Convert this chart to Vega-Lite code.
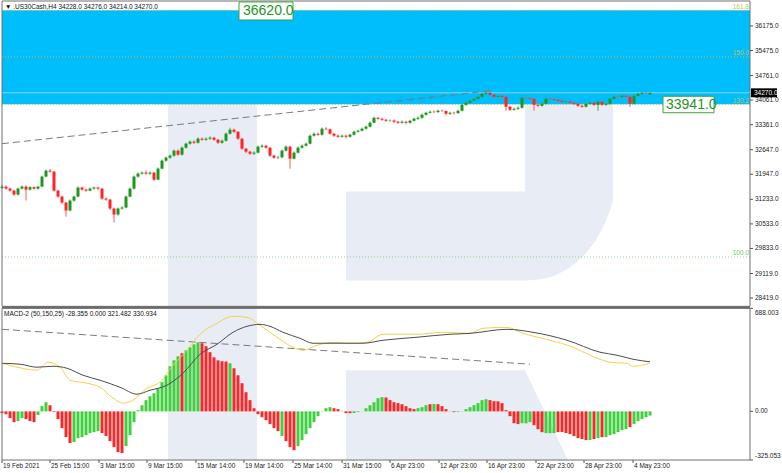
{
"$schema": "https://vega.github.io/schema/vega-lite/v6.json",
"width": 782, "height": 473,
"autosize": {"type": "fit", "contains": "padding"},
"padding": 0,
"config": {"view": {"stroke": null}, "scale": {"continuousPadding": 0}},
"resolve": {"scale": {"y": "independent"}},
"datasets": {
"candles": [
{"n":0,"o":31560,"h":31640,"l":31525,"c":31596},{"n":2,"o":31596,"h":31630,"l":31505,"c":31539},{"n":4,"o":31539,"h":31570,"l":31450,"c":31482},{"n":6,"o":31482,"h":31510,"l":31330,"c":31369},{"n":8,"o":31369,"h":31570,"l":31340,"c":31539},{"n":10,"o":31539,"h":31630,"l":31510,"c":31596},{"n":12,"o":31596,"h":31630,"l":31200,"c":31511},{"n":14,"o":31511,"h":31610,"l":31480,"c":31580},{"n":16,"o":31580,"h":31600,"l":31505,"c":31539},{"n":18,"o":31539,"h":31620,"l":31510,"c":31596},
{"n":20,"o":31596,"h":31910,"l":31580,"c":31881},{"n":22,"o":31881,"h":32080,"l":31860,"c":32051},{"n":24,"o":32051,"h":32095,"l":31990,"c":32023},{"n":26,"o":32023,"h":32040,"l":31450,"c":31482},{"n":28,"o":31482,"h":31500,"l":31280,"c":31312},{"n":30,"o":31312,"h":31340,"l":31100,"c":31141},{"n":32,"o":31141,"h":31160,"l":30743,"c":30914},{"n":34,"o":30914,"h":31230,"l":30890,"c":31198},{"n":36,"o":31198,"h":31340,"l":31170,"c":31312},{"n":38,"o":31312,"h":31600,"l":31290,"c":31568},
{"n":40,"o":31568,"h":31600,"l":31480,"c":31511},{"n":42,"o":31511,"h":31540,"l":31450,"c":31482},{"n":44,"o":31482,"h":31570,"l":31460,"c":31539},{"n":46,"o":31539,"h":31600,"l":31510,"c":31568},{"n":48,"o":31568,"h":31600,"l":31500,"c":31539},{"n":50,"o":31539,"h":31560,"l":31220,"c":31255},{"n":52,"o":31255,"h":31290,"l":31190,"c":31226},{"n":54,"o":31226,"h":31250,"l":30930,"c":30971},{"n":56,"o":30971,"h":31000,"l":30572,"c":30800},{"n":58,"o":30800,"h":31000,"l":30770,"c":30971},
{"n":60,"o":30971,"h":31040,"l":30940,"c":30999},{"n":62,"o":30999,"h":31340,"l":30980,"c":31312},{"n":64,"o":31312,"h":31570,"l":31290,"c":31539},{"n":66,"o":31539,"h":31910,"l":31510,"c":31881},{"n":68,"o":31881,"h":32000,"l":31850,"c":31966},{"n":70,"o":31966,"h":32030,"l":31940,"c":31994},{"n":72,"o":31994,"h":32060,"l":31930,"c":31966},{"n":74,"o":31966,"h":32030,"l":31930,"c":31994},{"n":76,"o":31994,"h":32010,"l":31760,"c":31795},{"n":78,"o":31795,"h":32140,"l":31780,"c":32108},
{"n":80,"o":32108,"h":32370,"l":32090,"c":32336},{"n":82,"o":32336,"h":32450,"l":32300,"c":32421},{"n":84,"o":32421,"h":32510,"l":32390,"c":32478},{"n":86,"o":32478,"h":32650,"l":32450,"c":32620},{"n":88,"o":32620,"h":32660,"l":32470,"c":32506},{"n":90,"o":32506,"h":32740,"l":32480,"c":32705},{"n":92,"o":32705,"h":32850,"l":32680,"c":32819},{"n":94,"o":32819,"h":32910,"l":32790,"c":32876},{"n":96,"o":32876,"h":32920,"l":32810,"c":32847},{"n":98,"o":32847,"h":33000,"l":32820,"c":32961},
{"n":100,"o":32961,"h":33000,"l":32900,"c":32933},{"n":102,"o":32933,"h":33000,"l":32900,"c":32961},{"n":104,"o":32961,"h":33030,"l":32930,"c":32990},{"n":106,"o":32990,"h":33020,"l":32900,"c":32933},{"n":108,"o":32933,"h":32960,"l":32810,"c":32847},{"n":110,"o":32847,"h":32940,"l":32820,"c":32904},{"n":112,"o":32904,"h":33140,"l":32880,"c":33103},{"n":114,"o":33103,"h":33274,"l":33080,"c":33217},{"n":116,"o":33217,"h":33250,"l":33120,"c":33160},{"n":118,"o":33160,"h":33180,"l":32930,"c":32961},
{"n":120,"o":32961,"h":32990,"l":32640,"c":32677},{"n":122,"o":32677,"h":32700,"l":32550,"c":32592},{"n":124,"o":32592,"h":32620,"l":32500,"c":32535},{"n":126,"o":32535,"h":32600,"l":32500,"c":32563},{"n":128,"o":32563,"h":32770,"l":32540,"c":32734},{"n":130,"o":32734,"h":32800,"l":32700,"c":32762},{"n":132,"o":32762,"h":32790,"l":32670,"c":32705},{"n":134,"o":32705,"h":32730,"l":32440,"c":32478},{"n":136,"o":32478,"h":32500,"l":32390,"c":32421},{"n":138,"o":32421,"h":32470,"l":32380,"c":32430},
{"n":140,"o":32430,"h":32650,"l":32410,"c":32620},{"n":142,"o":32620,"h":32770,"l":32600,"c":32734},{"n":144,"o":32734,"h":32760,"l":32108,"c":32392},{"n":146,"o":32392,"h":32600,"l":32370,"c":32563},{"n":148,"o":32563,"h":32740,"l":32540,"c":32705},{"n":150,"o":32705,"h":32800,"l":32680,"c":32762},{"n":152,"o":32762,"h":32850,"l":32740,"c":32819},{"n":154,"o":32819,"h":33080,"l":32800,"c":33047},{"n":156,"o":33047,"h":33140,"l":33020,"c":33103},{"n":158,"o":33103,"h":33130,"l":33040,"c":33075},
{"n":160,"o":33075,"h":33280,"l":33050,"c":33246},{"n":162,"o":33246,"h":33290,"l":33200,"c":33230},{"n":164,"o":33230,"h":33250,"l":33070,"c":33103},{"n":166,"o":33103,"h":33130,"l":33010,"c":33047},{"n":168,"o":33047,"h":33080,"l":32980,"c":33018},{"n":170,"o":33018,"h":33080,"l":32990,"c":33047},{"n":172,"o":33047,"h":33070,"l":32970,"c":33018},{"n":174,"o":33018,"h":33100,"l":32990,"c":33075},{"n":176,"o":33075,"h":33190,"l":33050,"c":33160},{"n":178,"o":33160,"h":33220,"l":33140,"c":33189},
{"n":180,"o":33189,"h":33280,"l":33170,"c":33246},{"n":182,"o":33246,"h":33340,"l":33220,"c":33303},{"n":184,"o":33303,"h":33450,"l":33280,"c":33416},{"n":186,"o":33416,"h":33590,"l":33400,"c":33558},{"n":188,"o":33558,"h":33580,"l":33500,"c":33530},{"n":190,"o":33530,"h":33560,"l":33470,"c":33502},{"n":192,"o":33502,"h":33530,"l":33440,"c":33473},{"n":194,"o":33473,"h":33510,"l":33440,"c":33480},{"n":196,"o":33480,"h":33510,"l":33410,"c":33445},{"n":198,"o":33445,"h":33470,"l":33380,"c":33416},
{"n":200,"o":33416,"h":33480,"l":33390,"c":33445},{"n":202,"o":33445,"h":33470,"l":33370,"c":33416},{"n":204,"o":33416,"h":33500,"l":33390,"c":33473},{"n":206,"o":33473,"h":33560,"l":33450,"c":33530},{"n":208,"o":33530,"h":33590,"l":33500,"c":33558},{"n":210,"o":33558,"h":33680,"l":33530,"c":33644},{"n":212,"o":33644,"h":33730,"l":33620,"c":33701},{"n":214,"o":33701,"h":33760,"l":33680,"c":33729},{"n":216,"o":33729,"h":33770,"l":33690,"c":33720},{"n":218,"o":33720,"h":33790,"l":33700,"c":33758},
{"n":220,"o":33758,"h":33790,"l":33720,"c":33750},{"n":222,"o":33750,"h":33770,"l":33620,"c":33672},{"n":224,"o":33672,"h":33730,"l":33640,"c":33701},{"n":226,"o":33701,"h":33730,"l":33650,"c":33690},{"n":228,"o":33690,"h":33790,"l":33670,"c":33758},{"n":230,"o":33758,"h":33960,"l":33740,"c":33928},{"n":232,"o":33928,"h":34020,"l":33900,"c":33985},{"n":234,"o":33985,"h":34080,"l":33960,"c":34042},{"n":236,"o":34042,"h":34130,"l":34020,"c":34099},{"n":238,"o":34099,"h":34190,"l":34070,"c":34156},
{"n":240,"o":34156,"h":34280,"l":34130,"c":34241},{"n":242,"o":34241,"h":34326,"l":34220,"c":34270},{"n":244,"o":34270,"h":34290,"l":34180,"c":34213},{"n":246,"o":34213,"h":34240,"l":34120,"c":34156},{"n":248,"o":34156,"h":34220,"l":34130,"c":34184},{"n":250,"o":34184,"h":34230,"l":34120,"c":34156},{"n":252,"o":34156,"h":34180,"l":33758,"c":33871},{"n":254,"o":33871,"h":33900,"l":33750,"c":33786},{"n":256,"o":33786,"h":33850,"l":33760,"c":33814},{"n":258,"o":33814,"h":33880,"l":33790,"c":33843},
{"n":260,"o":33843,"h":34160,"l":33820,"c":34127},{"n":262,"o":34127,"h":34160,"l":34090,"c":34120},{"n":264,"o":34120,"h":34150,"l":34060,"c":34099},{"n":266,"o":34099,"h":34120,"l":33758,"c":33928},{"n":268,"o":33928,"h":33950,"l":33860,"c":33900},{"n":270,"o":33900,"h":33990,"l":33880,"c":33957},{"n":272,"o":33957,"h":34130,"l":33940,"c":34099},{"n":274,"o":34099,"h":34140,"l":34060,"c":34090},{"n":276,"o":34090,"h":34120,"l":34040,"c":34070},{"n":278,"o":34070,"h":34100,"l":34010,"c":34042},
{"n":280,"o":34042,"h":34070,"l":33980,"c":34014},{"n":282,"o":34014,"h":34060,"l":33980,"c":34020},{"n":284,"o":34020,"h":34050,"l":33950,"c":33985},{"n":286,"o":33985,"h":34010,"l":33920,"c":33957},{"n":288,"o":33957,"h":33980,"l":33870,"c":33900},{"n":290,"o":33900,"h":33930,"l":33840,"c":33871},{"n":292,"o":33871,"h":33990,"l":33850,"c":33957},{"n":294,"o":33957,"h":34020,"l":33930,"c":33985},{"n":296,"o":33985,"h":34010,"l":33890,"c":33928},{"n":298,"o":33928,"h":34050,"l":33758,"c":34014},
{"n":300,"o":34014,"h":34040,"l":33890,"c":33928},{"n":302,"o":33928,"h":33990,"l":33900,"c":33957},{"n":304,"o":33957,"h":34130,"l":33930,"c":34099},{"n":306,"o":34099,"h":34190,"l":34080,"c":34156},{"n":308,"o":34156,"h":34200,"l":34110,"c":34150},{"n":310,"o":34150,"h":34220,"l":34120,"c":34184},{"n":312,"o":34184,"h":34220,"l":34120,"c":34156},{"n":314,"o":34156,"h":34180,"l":33871,"c":33957},{"n":316,"o":33957,"h":34220,"l":33940,"c":34184},{"n":318,"o":34184,"h":34270,"l":34160,"c":34241},
{"n":320,"o":34241,"h":34300,"l":34220,"c":34270},{"n":322,"o":34270,"h":34300,"l":34230,"c":34262},{"n":324,"o":34228,"h":34276,"l":34214,"c":34270}
],
"hist": [
{"n":0,"v":-12,"d":"d"},{"n":2,"v":-19,"d":"d"},{"n":4,"v":-45,"d":"d"},{"n":6,"v":-72,"d":"d"},{"n":8,"v":-65,"d":"u"},{"n":10,"v":-45,"d":"u"},{"n":12,"v":-52,"d":"d"},{"n":14,"v":-65,"d":"d"},{"n":16,"v":-72,"d":"d"},{"n":18,"v":-25,"d":"u"},
{"n":20,"v":35,"d":"u"},{"n":22,"v":61,"d":"u"},{"n":24,"v":41,"d":"d"},{"n":26,"v":-5,"d":"d"},{"n":28,"v":-52,"d":"d"},{"n":30,"v":-112,"d":"d"},{"n":32,"v":-172,"d":"d"},{"n":34,"v":-212,"d":"d"},{"n":36,"v":-205,"d":"u"},{"n":38,"v":-179,"d":"u"},
{"n":40,"v":-172,"d":"u"},{"n":42,"v":-159,"d":"u"},{"n":44,"v":-145,"d":"u"},{"n":46,"v":-139,"d":"u"},{"n":48,"v":-132,"d":"u"},{"n":50,"v":-145,"d":"d"},{"n":52,"v":-165,"d":"d"},{"n":54,"v":-199,"d":"d"},{"n":56,"v":-239,"d":"d"},{"n":58,"v":-272,"d":"d"},
{"n":60,"v":-279,"d":"d"},{"n":62,"v":-232,"d":"u"},{"n":64,"v":-159,"d":"u"},{"n":66,"v":-72,"d":"u"},{"n":68,"v":8,"d":"u"},{"n":70,"v":41,"d":"u"},{"n":72,"v":75,"d":"u"},{"n":74,"v":101,"d":"u"},{"n":76,"v":121,"d":"u"},{"n":78,"v":155,"d":"u"},
{"n":80,"v":195,"d":"u"},{"n":82,"v":241,"d":"u"},{"n":84,"v":301,"d":"u"},{"n":86,"v":341,"d":"u"},{"n":88,"v":368,"d":"u"},{"n":90,"v":388,"d":"d"},{"n":92,"v":408,"d":"u"},{"n":94,"v":428,"d":"u"},{"n":96,"v":448,"d":"u"},{"n":98,"v":461,"d":"u"},
{"n":100,"v":455,"d":"d"},{"n":102,"v":435,"d":"d"},{"n":104,"v":395,"d":"d"},{"n":106,"v":361,"d":"d"},{"n":108,"v":341,"d":"d"},{"n":110,"v":335,"d":"d"},{"n":112,"v":333,"d":"d"},{"n":114,"v":321,"d":"u"},{"n":116,"v":288,"d":"d"},{"n":118,"v":241,"d":"d"},
{"n":120,"v":188,"d":"d"},{"n":122,"v":128,"d":"d"},{"n":124,"v":75,"d":"d"},{"n":126,"v":21,"d":"d"},{"n":128,"v":-19,"d":"d"},{"n":130,"v":-39,"d":"d"},{"n":132,"v":-59,"d":"d"},{"n":134,"v":-85,"d":"d"},{"n":136,"v":-112,"d":"d"},{"n":138,"v":-132,"d":"d"},
{"n":140,"v":-165,"d":"u"},{"n":142,"v":-199,"d":"d"},{"n":144,"v":-239,"d":"d"},{"n":146,"v":-259,"d":"d"},{"n":148,"v":-232,"d":"u"},{"n":150,"v":-192,"d":"u"},{"n":152,"v":-152,"d":"u"},{"n":154,"v":-112,"d":"u"},{"n":156,"v":-72,"d":"u"},{"n":158,"v":-32,"d":"u"},
{"n":160,"v":2,"d":"u"},{"n":162,"v":21,"d":"u"},{"n":164,"v":28,"d":"u"},{"n":166,"v":21,"d":"d"},{"n":168,"v":15,"d":"d"},{"n":170,"v":1,"d":"d"},{"n":172,"v":-12,"d":"d"},{"n":174,"v":-12,"d":"d"},{"n":176,"v":-11,"d":"u"},{"n":178,"v":-5,"d":"u"},
{"n":180,"v":1,"d":"u"},{"n":182,"v":21,"d":"u"},{"n":184,"v":41,"d":"u"},{"n":186,"v":61,"d":"u"},{"n":188,"v":88,"d":"u"},{"n":190,"v":95,"d":"u"},{"n":192,"v":93,"d":"d"},{"n":194,"v":75,"d":"d"},{"n":196,"v":61,"d":"d"},{"n":198,"v":55,"d":"d"},
{"n":200,"v":48,"d":"d"},{"n":202,"v":35,"d":"d"},{"n":204,"v":21,"d":"d"},{"n":206,"v":15,"d":"d"},{"n":208,"v":21,"d":"u"},{"n":210,"v":28,"d":"u"},{"n":212,"v":41,"d":"u"},{"n":214,"v":48,"d":"d"},{"n":216,"v":49,"d":"u"},{"n":218,"v":48,"d":"d"},
{"n":220,"v":35,"d":"d"},{"n":222,"v":15,"d":"d"},{"n":224,"v":1,"d":"d"},{"n":226,"v":-5,"d":"d"},{"n":228,"v":-4,"d":"u"},{"n":230,"v":1,"d":"u"},{"n":232,"v":15,"d":"u"},{"n":234,"v":28,"d":"u"},{"n":236,"v":41,"d":"u"},{"n":238,"v":55,"d":"u"},
{"n":240,"v":75,"d":"u"},{"n":242,"v":81,"d":"u"},{"n":244,"v":75,"d":"d"},{"n":246,"v":68,"d":"d"},{"n":248,"v":67,"d":"d"},{"n":250,"v":55,"d":"d"},{"n":252,"v":8,"d":"d"},{"n":254,"v":-32,"d":"d"},{"n":256,"v":-79,"d":"d"},{"n":258,"v":-85,"d":"d"},
{"n":260,"v":-79,"d":"u"},{"n":262,"v":-80,"d":"u"},{"n":264,"v":-72,"d":"u"},{"n":266,"v":-92,"d":"d"},{"n":268,"v":-119,"d":"d"},{"n":270,"v":-139,"d":"d"},{"n":272,"v":-145,"d":"u"},{"n":274,"v":-146,"d":"u"},{"n":276,"v":-145,"d":"u"},{"n":278,"v":-139,"d":"d"},
{"n":280,"v":-138,"d":"d"},{"n":282,"v":-145,"d":"d"},{"n":284,"v":-152,"d":"d"},{"n":286,"v":-165,"d":"d"},{"n":288,"v":-179,"d":"d"},{"n":290,"v":-185,"d":"d"},{"n":292,"v":-192,"d":"d"},{"n":294,"v":-191,"d":"u"},{"n":296,"v":-185,"d":"d"},{"n":298,"v":-179,"d":"u"},
{"n":300,"v":-172,"d":"d"},{"n":302,"v":-171,"d":"u"},{"n":304,"v":-159,"d":"u"},{"n":306,"v":-152,"d":"u"},{"n":308,"v":-139,"d":"u"},{"n":310,"v":-125,"d":"u"},{"n":312,"v":-119,"d":"u"},{"n":314,"v":-105,"d":"d"},{"n":316,"v":-85,"d":"u"},{"n":318,"v":-65,"d":"u"},
{"n":320,"v":-52,"d":"u"},{"n":322,"v":-39,"d":"u"},{"n":324,"v":-28,"d":"u"}
],
"sig": [
{"n":0,"v":321},{"n":9,"v":315},{"n":17.5,"v":295},{"n":25.5,"v":301},{"n":32.5,"v":288},{"n":40.5,"v":241},{"n":49,"v":208},{"n":59,"v":161},{"n":67.5,"v":115},{"n":74,"v":141},{"n":82.5,"v":175},{"n":90.5,"v":255},{"n":99,"v":381},{"n":107.5,"v":448},{"n":115.5,"v":528},{"n":122.5,"v":568},{"n":129,"v":581},{"n":134,"v":568},{"n":140.5,"v":528},{"n":149,"v":488},{"n":155.5,"v":455},{"n":165.5,"v":455},{"n":180.5,"v":455},{"n":190.5,"v":475},{"n":207.5,"v":495},{"n":224,"v":515},{"n":234,"v":521},{"n":252.5,"v":548},{"n":265.5,"v":528},{"n":282.5,"v":475},{"n":299,"v":395},{"n":307.5,"v":375},{"n":315.5,"v":348},{"n":324,"v":331}
],
"macd": [
{"n":0,"v":321},{"n":7.5,"v":295},{"n":17.5,"v":275},{"n":23,"v":328},{"n":29,"v":295},{"n":34,"v":208},{"n":42.5,"v":188},{"n":49,"v":161},{"n":55.5,"v":88},{"n":60.5,"v":55},{"n":65.5,"v":75},{"n":72.5,"v":155},{"n":79,"v":195},{"n":85.5,"v":308},{"n":92.5,"v":408},{"n":99,"v":515},{"n":107.5,"v":588},{"n":115.5,"v":635},{"n":122.5,"v":628},{"n":129,"v":575},{"n":137.5,"v":495},{"n":145.5,"v":428},{"n":150.5,"v":408},{"n":157.5,"v":441},{"n":165.5,"v":461},{"n":174,"v":455},{"n":182.5,"v":461},{"n":190.5,"v":515},{"n":207.5,"v":515},{"n":220.5,"v":528},{"n":234,"v":521},{"n":240.5,"v":555},{"n":252.5,"v":561},{"n":260.5,"v":521},{"n":274,"v":475},{"n":285.5,"v":428},{"n":294,"v":375},{"n":299,"v":348},{"n":304,"v":328},{"n":312.5,"v":321},{"n":315.5,"v":301},{"n":324,"v":321}
],
"trendTop": [{"n":0,"p":32819},{"n":244,"p":34326}],
"trendBot": [{"n":0,"v":548},{"n":264,"v":315}],
"wmTopRects": [{"n":83,"n2":127.5,"p":28183,"p2":36620},{"n":172,"n2":262,"p":28923,"p2":31454}],
"wmTopArea": [{"n":261.5,"p":28923,"p2":36620},{"n":266.5,"p":28937,"p2":36620},{"n":271.5,"p":28980,"p2":36620},{"n":276.5,"p":29065,"p2":36620},{"n":281.5,"p":29207,"p2":36620},{"n":286.5,"p":29406,"p2":36620},{"n":291.5,"p":29662,"p2":36620},{"n":296.5,"p":30032,"p2":36620},{"n":300.5,"p":30430,"p2":36620},{"n":303.5,"p":30828,"p2":36620},{"n":305.5,"p":31198,"p2":36620}],
"wmBotRect": [{"n":83,"n2":127.5,"v":-325.053,"v2":688.003}],
"wmBotArea": [{"n":172,"v":274.6,"v2":-325.053},{"n":261.5,"v":274.6,"v2":-325.053},{"n":283,"v":-325.053,"v2":-325.053}],
"zone": [{"n":0,"n2":374,"p":33941,"p2":36620}],
"fib": [{"p":36620,"lab":"161.8","g":"a"},{"p":35293,"lab":"150.0","g":"a"},{"p":33941,"lab":"130.2","g":"a"},{"p":29591,"lab":"100.0","g":"b"}],
"bigLabels": [{"n":118.5,"n2":145.5,"p":36346,"p2":36858,"tn":120.5,"tp":36602,"t":"36620.0"},{"n":330.5,"n2":356,"p":33701,"p2":34170,"tn":332,"tp":33930,"t":"33941.0"}],
"last": [{"n":374.5,"n2":387.5,"p":34141,"p2":34397,"tn":376,"tp":34270,"t":"34270.0"}],
"headTop": [{"n":1.5,"p":36715,"t":"▼  .US30Cash,H4  34228.0 34276.0 34214.0 34270.0"}],
"headBot": [{"n":1,"v":648,"t":"MACD-2 (50,150,25) -28.355 0.000 321.482 330.934"}],
"priceTicks": [{"p":36175},{"p":35475},{"p":34761},{"p":34061},{"p":33361},{"p":32647},{"p":31947},{"p":31233},{"p":30533},{"p":29833},{"p":29119},{"p":28419}],
"macdTicks": [{"v":688.003},{"v":0},{"v":-325.053}],
"timeTicks": [{"n":0,"t":"19 Feb 2021"},{"n":24,"t":"25 Feb 15:00"},{"n":48.5,"t":"3 Mar 15:00"},{"n":72.5,"t":"9 Mar 15:00"},{"n":97,"t":"15 Mar 14:00"},{"n":121,"t":"19 Mar 14:00"},{"n":145.5,"t":"25 Mar 14:00"},{"n":170,"t":"31 Mar 15:00"},{"n":194,"t":"6 Apr 23:00"},{"n":218.5,"t":"12 Apr 23:00"},{"n":242.5,"t":"16 Apr 23:00"},{"n":267,"t":"22 Apr 23:00"},{"n":291,"t":"28 Apr 23:00"},{"n":315.5,"t":"4 May 23:00"}],
"topFrame": [{"n":0,"n2":374,"p":28183,"p2":36886}],
"botFrame": [{"n":0,"n2":374,"v":-325.053,"v2":688.003}]
},
"layer": [
{"data": {"name": "wmTopRects"}, "mark": {"type": "rect", "color": "#e8ecf4"},
 "encoding": {"x": {"field": "n", "type": "quantitative", "scale": {"domain": [-1, 390], "nice": false, "zero": false}, "axis": null}, "x2": {"field": "n2"},
  "y": {"field": "p", "type": "quantitative", "scale": {"domain": [23433.4, 36886], "nice": false, "zero": false}, "axis": null}, "y2": {"field": "p2"}}},
{"data": {"name": "wmTopArea"}, "mark": {"type": "area", "color": "#e8ecf4"},
 "encoding": {"x": {"field": "n", "type": "quantitative", "scale": {"domain": [-1, 390], "nice": false, "zero": false}, "axis": null},
  "y": {"field": "p", "type": "quantitative", "scale": {"domain": [23433.4, 36886], "nice": false, "zero": false}, "axis": null}, "y2": {"field": "p2"}}},
{"data": {"name": "wmBotRect"}, "mark": {"type": "rect", "color": "#e8ecf4"},
 "encoding": {"x": {"field": "n", "type": "quantitative", "scale": {"domain": [-1, 390], "nice": false, "zero": false}, "axis": null}, "x2": {"field": "n2"},
  "y": {"field": "v", "type": "quantitative", "scale": {"domain": [-411.7, 2740.8], "nice": false, "zero": false}, "axis": null}, "y2": {"field": "v2"}}},
{"data": {"name": "wmBotArea"}, "mark": {"type": "area", "color": "#e8ecf4"},
 "encoding": {"x": {"field": "n", "type": "quantitative", "scale": {"domain": [-1, 390], "nice": false, "zero": false}, "axis": null},
  "y": {"field": "v", "type": "quantitative", "scale": {"domain": [-411.7, 2740.8], "nice": false, "zero": false}, "axis": null}, "y2": {"field": "v2"}}},
{"data": {"name": "zone"}, "mark": {"type": "rect", "color": "#00bdfb"},
 "encoding": {"x": {"field": "n", "type": "quantitative", "scale": {"domain": [-1, 390], "nice": false, "zero": false}, "axis": null}, "x2": {"field": "n2"},
  "y": {"field": "p", "type": "quantitative", "scale": {"domain": [23433.4, 36886], "nice": false, "zero": false}, "axis": null}, "y2": {"field": "p2"}}},
{"data": {"values": [{"n": 0, "n2": 374, "p": 34270}]}, "mark": {"type": "rule", "color": "#86dcfb", "strokeWidth": 1},
 "encoding": {"x": {"field": "n", "type": "quantitative", "scale": {"domain": [-1, 390], "nice": false, "zero": false}, "axis": null}, "x2": {"field": "n2"},
  "y": {"field": "p", "type": "quantitative", "scale": {"domain": [23433.4, 36886], "nice": false, "zero": false}, "axis": null}}},
{"data": {"name": "fib"}, "mark": {"type": "rule", "strokeDash": [1, 2], "strokeWidth": 1},
 "encoding": {"x": {"datum": 0, "type": "quantitative", "scale": {"domain": [-1, 390], "nice": false, "zero": false}, "axis": null}, "x2": {"datum": 374},
  "y": {"field": "p", "type": "quantitative", "scale": {"domain": [23433.4, 36886], "nice": false, "zero": false}, "axis": null},
  "color": {"condition": {"test": "datum.g == 'a'", "value": "#d9bd3c"}, "value": "#8fd08f"}}},
{"data": {"name": "fib"}, "mark": {"type": "text", "align": "right", "baseline": "bottom", "dy": -0.5, "font": "Liberation Sans", "fontSize": 6.5},
 "encoding": {"x": {"datum": 373.5, "type": "quantitative", "scale": {"domain": [-1, 390], "nice": false, "zero": false}, "axis": null},
  "y": {"field": "p", "type": "quantitative", "scale": {"domain": [23433.4, 36886], "nice": false, "zero": false}, "axis": null},
  "text": {"field": "lab"},
  "color": {"condition": {"test": "datum.g == 'a'", "value": "#b9c65a"}, "value": "#6fbf6f"}}},
{"data": {"name": "trendTop"}, "mark": {"type": "line", "color": "#7a7a7a", "strokeWidth": 1, "strokeDash": [7, 4]},
 "encoding": {"x": {"field": "n", "type": "quantitative", "scale": {"domain": [-1, 390], "nice": false, "zero": false}, "axis": null},
  "y": {"field": "p", "type": "quantitative", "scale": {"domain": [23433.4, 36886], "nice": false, "zero": false}, "axis": null}}},
{"data": {"name": "candles"}, "mark": {"type": "rule", "strokeWidth": 1},
 "encoding": {"x": {"field": "n", "type": "quantitative", "scale": {"domain": [-1, 390], "nice": false, "zero": false}, "axis": null},
  "y": {"field": "l", "type": "quantitative", "scale": {"domain": [23433.4, 36886], "nice": false, "zero": false}, "axis": null}, "y2": {"field": "h"},
  "color": {"condition": {"test": "datum.c >= datum.o", "value": "#43a843"}, "value": "#ff5a5a"}}},
{"data": {"name": "candles"}, "mark": {"type": "bar", "size": 3},
 "encoding": {"x": {"field": "n", "type": "quantitative", "scale": {"domain": [-1, 390], "nice": false, "zero": false}, "axis": null},
  "y": {"field": "o", "type": "quantitative", "scale": {"domain": [23433.4, 36886], "nice": false, "zero": false}, "axis": null}, "y2": {"field": "c"},
  "color": {"condition": {"test": "datum.c >= datum.o", "value": "#1f961f"}, "value": "#ff2424"}}},
{"data": {"name": "hist"}, "mark": {"type": "bar", "size": 3},
 "encoding": {"x": {"field": "n", "type": "quantitative", "scale": {"domain": [-1, 390], "nice": false, "zero": false}, "axis": null},
  "y": {"field": "v", "type": "quantitative", "scale": {"domain": [-411.7, 2740.8], "nice": false, "zero": false}, "axis": null}, "y2": {"datum": 0},
  "color": {"condition": {"test": "datum.d == 'u'", "value": "#3fcf3f"}, "value": "#f42a2a"}}},
{"data": {"name": "trendBot"}, "mark": {"type": "line", "color": "#7a7a7a", "strokeWidth": 1, "strokeDash": [7, 4]},
 "encoding": {"x": {"field": "n", "type": "quantitative", "scale": {"domain": [-1, 390], "nice": false, "zero": false}, "axis": null},
  "y": {"field": "v", "type": "quantitative", "scale": {"domain": [-411.7, 2740.8], "nice": false, "zero": false}, "axis": null}}},
{"data": {"name": "macd"}, "mark": {"type": "line", "color": "#f3d34a", "strokeWidth": 1, "interpolate": "monotone"},
 "encoding": {"x": {"field": "n", "type": "quantitative", "scale": {"domain": [-1, 390], "nice": false, "zero": false}, "axis": null},
  "y": {"field": "v", "type": "quantitative", "scale": {"domain": [-411.7, 2740.8], "nice": false, "zero": false}, "axis": null}}},
{"data": {"name": "sig"}, "mark": {"type": "line", "color": "#4d4d4d", "strokeWidth": 1, "interpolate": "monotone"},
 "encoding": {"x": {"field": "n", "type": "quantitative", "scale": {"domain": [-1, 390], "nice": false, "zero": false}, "axis": null},
  "y": {"field": "v", "type": "quantitative", "scale": {"domain": [-411.7, 2740.8], "nice": false, "zero": false}, "axis": null}}},
{"data": {"name": "topFrame"}, "mark": {"type": "rect", "fillOpacity": 0, "stroke": "#707070", "strokeWidth": 1},
 "encoding": {"x": {"field": "n", "type": "quantitative", "scale": {"domain": [-1, 390], "nice": false, "zero": false}, "axis": null}, "x2": {"field": "n2"},
  "y": {"field": "p", "type": "quantitative", "scale": {"domain": [23433.4, 36886], "nice": false, "zero": false}, "axis": null}, "y2": {"field": "p2"}}},
{"data": {"name": "botFrame"}, "mark": {"type": "rect", "fillOpacity": 0, "stroke": "#707070", "strokeWidth": 1},
 "encoding": {"x": {"field": "n", "type": "quantitative", "scale": {"domain": [-1, 390], "nice": false, "zero": false}, "axis": null}, "x2": {"field": "n2"},
  "y": {"field": "v", "type": "quantitative", "scale": {"domain": [-411.7, 2740.8], "nice": false, "zero": false}, "axis": null}, "y2": {"field": "v2"}}},
{"data": {"values": [{"n": 0, "n2": 374, "v": 694.7}]}, "mark": {"type": "rule", "color": "#6a6a6a", "strokeWidth": 2},
 "encoding": {"x": {"field": "n", "type": "quantitative", "scale": {"domain": [-1, 390], "nice": false, "zero": false}, "axis": null}, "x2": {"field": "n2"},
  "y": {"field": "v", "type": "quantitative", "scale": {"domain": [-411.7, 2740.8], "nice": false, "zero": false}, "axis": null}}},
{"data": {"name": "priceTicks"}, "mark": {"type": "rule", "color": "#555555", "strokeWidth": 1},
 "encoding": {"x": {"datum": 374, "type": "quantitative", "scale": {"domain": [-1, 390], "nice": false, "zero": false}, "axis": null}, "x2": {"datum": 375.5},
  "y": {"field": "p", "type": "quantitative", "scale": {"domain": [23433.4, 36886], "nice": false, "zero": false}, "axis": null}}},
{"data": {"name": "priceTicks"}, "mark": {"type": "text", "align": "left", "baseline": "middle", "font": "Liberation Sans", "fontSize": 6.5, "color": "#222222"},
 "encoding": {"x": {"datum": 376.5, "type": "quantitative", "scale": {"domain": [-1, 390], "nice": false, "zero": false}, "axis": null},
  "y": {"field": "p", "type": "quantitative", "scale": {"domain": [23433.4, 36886], "nice": false, "zero": false}, "axis": null},
  "text": {"field": "p", "type": "quantitative", "format": ".1f"}}},
{"data": {"name": "macdTicks"}, "mark": {"type": "rule", "color": "#555555", "strokeWidth": 1},
 "encoding": {"x": {"datum": 374, "type": "quantitative", "scale": {"domain": [-1, 390], "nice": false, "zero": false}, "axis": null}, "x2": {"datum": 375.5},
  "y": {"field": "v", "type": "quantitative", "scale": {"domain": [-411.7, 2740.8], "nice": false, "zero": false}, "axis": null}}},
{"data": {"values": [{"v": 688.003, "t": "688.003"}]}, "mark": {"type": "text", "align": "left", "baseline": "top", "dy": 1.5, "font": "Liberation Sans", "fontSize": 6.5, "color": "#222222"},
 "encoding": {"x": {"datum": 376.5, "type": "quantitative", "scale": {"domain": [-1, 390], "nice": false, "zero": false}, "axis": null},
  "y": {"field": "v", "type": "quantitative", "scale": {"domain": [-411.7, 2740.8], "nice": false, "zero": false}, "axis": null}, "text": {"field": "t"}}},
{"data": {"values": [{"v": 0, "t": "0.00"}]}, "mark": {"type": "text", "align": "left", "baseline": "middle", "font": "Liberation Sans", "fontSize": 6.5, "color": "#222222"},
 "encoding": {"x": {"datum": 376.5, "type": "quantitative", "scale": {"domain": [-1, 390], "nice": false, "zero": false}, "axis": null},
  "y": {"field": "v", "type": "quantitative", "scale": {"domain": [-411.7, 2740.8], "nice": false, "zero": false}, "axis": null}, "text": {"field": "t"}}},
{"data": {"values": [{"v": -325.053, "t": "-325.053"}]}, "mark": {"type": "text", "align": "left", "baseline": "bottom", "dy": -1, "font": "Liberation Sans", "fontSize": 6.5, "color": "#222222"},
 "encoding": {"x": {"datum": 376.5, "type": "quantitative", "scale": {"domain": [-1, 390], "nice": false, "zero": false}, "axis": null},
  "y": {"field": "v", "type": "quantitative", "scale": {"domain": [-411.7, 2740.8], "nice": false, "zero": false}, "axis": null}, "text": {"field": "t"}}},
{"data": {"name": "timeTicks"}, "mark": {"type": "rule", "color": "#555555", "strokeWidth": 1},
 "encoding": {"x": {"field": "n", "type": "quantitative", "scale": {"domain": [-1, 390], "nice": false, "zero": false}, "axis": null},
  "y": {"datum": -325.053, "type": "quantitative", "scale": {"domain": [-411.7, 2740.8], "nice": false, "zero": false}, "axis": null}, "y2": {"datum": -345}}},
{"data": {"name": "timeTicks"}, "mark": {"type": "text", "align": "left", "baseline": "middle", "dx": 1, "font": "Liberation Sans", "fontSize": 6.5, "color": "#222222"},
 "encoding": {"x": {"field": "n", "type": "quantitative", "scale": {"domain": [-1, 390], "nice": false, "zero": false}, "axis": null},
  "y": {"datum": -365, "type": "quantitative", "scale": {"domain": [-411.7, 2740.8], "nice": false, "zero": false}, "axis": null}, "text": {"field": "t"}}},
{"data": {"name": "bigLabels"}, "mark": {"type": "rect", "fill": "#ffffff", "stroke": "#3fa33f", "strokeWidth": 1},
 "encoding": {"x": {"field": "n", "type": "quantitative", "scale": {"domain": [-1, 390], "nice": false, "zero": false}, "axis": null}, "x2": {"field": "n2"},
  "y": {"field": "p", "type": "quantitative", "scale": {"domain": [23433.4, 36886], "nice": false, "zero": false}, "axis": null}, "y2": {"field": "p2"}}},
{"data": {"name": "bigLabels"}, "mark": {"type": "text", "align": "left", "baseline": "middle", "font": "Liberation Sans", "fontSize": 14, "color": "#22961f"},
 "encoding": {"x": {"field": "tn", "type": "quantitative", "scale": {"domain": [-1, 390], "nice": false, "zero": false}, "axis": null},
  "y": {"field": "tp", "type": "quantitative", "scale": {"domain": [23433.4, 36886], "nice": false, "zero": false}, "axis": null}, "text": {"field": "t"}}},
{"data": {"name": "last"}, "mark": {"type": "rect", "color": "#000000"},
 "encoding": {"x": {"field": "n", "type": "quantitative", "scale": {"domain": [-1, 390], "nice": false, "zero": false}, "axis": null}, "x2": {"field": "n2"},
  "y": {"field": "p", "type": "quantitative", "scale": {"domain": [23433.4, 36886], "nice": false, "zero": false}, "axis": null}, "y2": {"field": "p2"}}},
{"data": {"name": "last"}, "mark": {"type": "text", "align": "left", "baseline": "middle", "font": "Liberation Sans", "fontSize": 6.5, "color": "#ffffff"},
 "encoding": {"x": {"field": "tn", "type": "quantitative", "scale": {"domain": [-1, 390], "nice": false, "zero": false}, "axis": null},
  "y": {"field": "tp", "type": "quantitative", "scale": {"domain": [23433.4, 36886], "nice": false, "zero": false}, "axis": null}, "text": {"field": "t"}}},
{"data": {"name": "headTop"}, "mark": {"type": "text", "align": "left", "baseline": "middle", "font": "Liberation Sans", "fontSize": 6.5, "color": "#111111"},
 "encoding": {"x": {"field": "n", "type": "quantitative", "scale": {"domain": [-1, 390], "nice": false, "zero": false}, "axis": null},
  "y": {"field": "p", "type": "quantitative", "scale": {"domain": [23433.4, 36886], "nice": false, "zero": false}, "axis": null}, "text": {"field": "t"}}},
{"data": {"name": "headBot"}, "mark": {"type": "text", "align": "left", "baseline": "middle", "font": "Liberation Sans", "fontSize": 6.5, "color": "#111111"},
 "encoding": {"x": {"field": "n", "type": "quantitative", "scale": {"domain": [-1, 390], "nice": false, "zero": false}, "axis": null},
  "y": {"field": "v", "type": "quantitative", "scale": {"domain": [-411.7, 2740.8], "nice": false, "zero": false}, "axis": null}, "text": {"field": "t"}}}
]
}
